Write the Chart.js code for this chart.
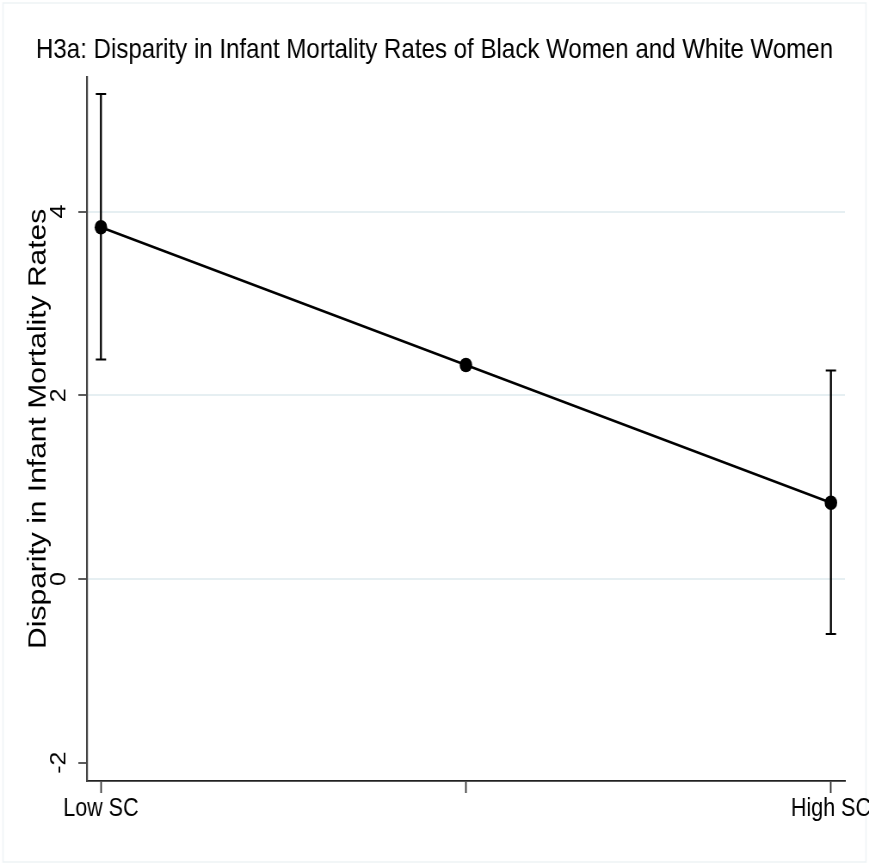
<!DOCTYPE html>
<html>
<head>
<meta charset="utf-8">
<script src="https://cdn.jsdelivr.net/npm/chart.js@4/dist/chart.umd.min.js"></script>
<style>
  html, body { margin: 0; padding: 0; background: #ffffff; overflow: hidden; }
  #c { display: block; }
</style>
</head>
<body>
<!-- drawn on a wider canvas and shown at 869px wide, like the horizontally squeezed reference -->
<canvas id="c" width="1010" height="865" style="width:869px;height:865px;"></canvas>
<script>
// ---- data ----
const categories = ['Low SC', '', 'High SC'];
const disparity = [3.83, 2.33, 0.83];
const ciLower = [2.39, null, -0.60];
const ciUpper = [5.28, null, 2.27];
const yTickValues = [-2, 0, 2, 4];
const xTickValues = [0, 1, 2];

const FONT = '"Liberation Sans", Arial, sans-serif';

const errorBars = {
  id: 'errorBars',
  beforeDatasetsDraw(chart) {
    const { ctx, scales: { x, y } } = chart;
    ctx.save();
    ctx.strokeStyle = '#000000';
    ctx.lineCap = 'butt';
    categories.forEach((c, i) => {
      if (ciLower[i] == null || ciUpper[i] == null) return;
      const px = x.getPixelForValue(i);
      const yl = y.getPixelForValue(ciLower[i]);
      const yh = y.getPixelForValue(ciUpper[i]);
      ctx.lineWidth = 2.3;
      ctx.beginPath();
      ctx.moveTo(px, yl); ctx.lineTo(px, yh);
      ctx.stroke();
      ctx.lineWidth = 2;
      ctx.beginPath();
      ctx.moveTo(px - 6, yl); ctx.lineTo(px + 6, yl);
      ctx.moveTo(px - 6, yh); ctx.lineTo(px + 6, yh);
      ctx.stroke();
    });
    ctx.restore();
  }
};

const frame = {
  id: 'frame',
  beforeDraw(chart) {
    const { ctx, width, height } = chart;
    ctx.save();
    ctx.fillStyle = '#ffffff';
    ctx.fillRect(0, 0, width, height);
    ctx.strokeStyle = '#eef3f5';
    ctx.lineWidth = 1.5;
    ctx.strokeRect(3.5, 3, width - 7, height - 6);
    ctx.restore();
  }
};

new Chart(document.getElementById('c'), {
  type: 'line',
  data: {
    datasets: [{
      data: categories.map((c, i) => ({ x: i, y: disparity[i] })),
      borderColor: '#000000',
      backgroundColor: '#000000',
      borderWidth: 2.6,
      pointRadius: 7.3,
      pointBackgroundColor: '#000000',
      pointBorderColor: '#000000',
      pointBorderWidth: 0,
      tension: 0,
      fill: false
    }]
  },
  options: {
    responsive: false,
    devicePixelRatio: 1,
    animation: false,
    events: [],
    layout: { padding: { left: 0, right: 0, top: 0, bottom: 0 } },
    plugins: {
      legend: { display: false },
      tooltip: { enabled: false },
      title: {
        display: true,
        text: 'H3a: Disparity in Infant Mortality Rates of Black Women and White Women',
        color: '#000000',
        font: { family: FONT, size: 28, weight: 'normal', lineHeight: 1.2 },
        padding: { top: 33, bottom: 10 }
      }
    },
    scales: {
      x: {
        type: 'linear',
        min: -0.0384,
        max: 2.0384,
        afterBuildTicks: (s) => { s.ticks = xTickValues.map(v => ({ value: v })); },
        afterFit: (s) => { s.height = 84; s.paddingLeft = 0; s.paddingRight = 0; },
        ticks: {
          autoSkip: false,
          maxRotation: 0,
          minRotation: 0,
          padding: 1.5,
          color: '#000000',
          font: { family: FONT, size: 25, lineHeight: 1.2 },
          callback: (v) => categories[Math.round(v)]
        },
        grid: {
          drawOnChartArea: false,
          drawTicks: true,
          tickLength: 12,
          tickColor: '#333333',
          tickWidth: 1.8
        },
        border: { display: true, color: '#222222', width: 1.8 }
      },
      y: {
        type: 'linear',
        position: 'left',
        min: -2.2,
        max: 5.47,
        afterBuildTicks: (s) => { s.ticks = yTickValues.map(v => ({ value: v })); },
        afterFit: (s) => { s.width = 101; s.paddingTop = 0; s.paddingBottom = 0; },
        ticks: {
          minRotation: 90,
          maxRotation: 90,
          crossAlign: 'center',
          padding: 11,
          color: '#000000',
          font: { family: FONT, size: 25, lineHeight: 1.2 },
          callback: (v) => String(v)
        },
        grid: {
          color: (ctx) => (ctx.tick && ctx.tick.value === -2) ? 'rgba(0,0,0,0)' : '#e6eff2',
          lineWidth: 2,
          drawTicks: true,
          tickLength: 10,
          tickColor: '#333333',
          tickWidth: 1.6
        },
        border: { display: true, color: '#444444', width: 2.2 },
        title: {
          display: true,
          text: 'Disparity in Infant Mortality Rates',
          color: '#000000',
          font: { family: FONT, size: 30, lineHeight: 1.2 },
          padding: { top: 27, bottom: 0 }
        }
      },
      yR: {
        type: 'linear',
        position: 'right',
        display: true,
        grid: { display: false, drawTicks: false },
        ticks: { display: false },
        border: { display: false },
        afterFit: (s) => { s.width = 28; s.paddingTop = 0; s.paddingBottom = 0; }
      }
    }
  },
  plugins: [frame, errorBars]
});
</script>
</body>
</html>
